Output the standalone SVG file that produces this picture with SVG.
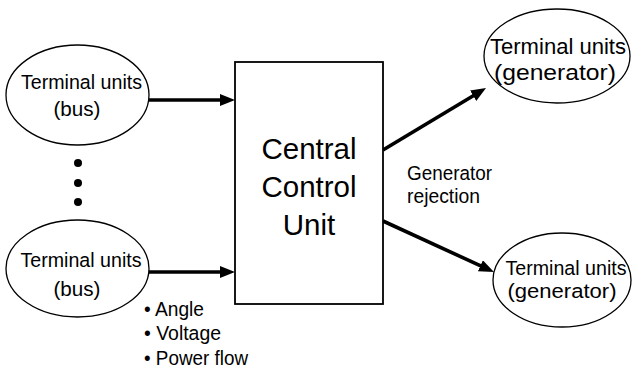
<svg xmlns="http://www.w3.org/2000/svg" width="632" height="374" viewBox="0 0 632 374">
<defs>
<style>
.bg{fill:#fff}
.node{fill:#fff;stroke:#000;stroke-width:1.3}
.box{fill:#fff;stroke:#000;stroke-width:1.8}
.t{font-family:"Liberation Sans",Arial,sans-serif;fill:#000}
.s{font-size:20.5px}
.big{font-size:22px}
.c{font-size:29.5px}
.m{text-anchor:middle}
.conn{stroke:#000;stroke-width:3.6;fill:none;marker-end:url(#ah)}
.dot{fill:#000}
</style>
<marker id="ah" markerUnits="userSpaceOnUse" markerWidth="18" markerHeight="13" refX="4" refY="6" orient="auto">
<path d="M0,0 L15,6 L0,12 z" fill="#000"/>
</marker>
</defs>
<rect class="bg" x="0" y="0" width="632" height="374"/>

<g id="connectors">
<line class="conn" x1="149" y1="100" x2="224" y2="100"/>
<line class="conn" x1="149" y1="272" x2="224" y2="272"/>
<line class="conn" x1="383" y1="150" x2="476.6" y2="93.7"/>
<line class="conn" x1="383" y1="221" x2="484" y2="267.4"/>
</g>

<g id="bus1">
<ellipse class="node" cx="77.5" cy="95" rx="71.5" ry="50"/>
<text class="t s m" x="81.5" y="89" textLength="121" lengthAdjust="spacingAndGlyphs">Terminal units</text>
<text class="t s m" x="77" y="116" textLength="47" lengthAdjust="spacingAndGlyphs">(bus)</text>
</g>

<g id="ellipsis">
<circle class="dot" cx="78" cy="163" r="4"/>
<circle class="dot" cx="78" cy="183" r="4"/>
<circle class="dot" cx="78" cy="202" r="4"/>
</g>

<g id="bus2">
<ellipse class="node" cx="77.5" cy="268.5" rx="71.5" ry="48.5"/>
<text class="t s m" x="81" y="267" textLength="121" lengthAdjust="spacingAndGlyphs">Terminal units</text>
<text class="t s m" x="77" y="296" textLength="47" lengthAdjust="spacingAndGlyphs">(bus)</text>
</g>

<g id="ccu">
<rect class="box" x="235" y="62" width="148" height="242"/>
<text class="t c m" x="309" y="159">Central</text>
<text class="t c m" x="309" y="197">Control</text>
<text class="t c m" x="309" y="235">Unit</text>
</g>

<g id="gen1">
<ellipse class="node" cx="557" cy="56" rx="73" ry="47"/>
<text class="t big m" x="558" y="54" textLength="136" lengthAdjust="spacingAndGlyphs">Terminal units</text>
<text class="t big m" x="555" y="80" textLength="122" lengthAdjust="spacingAndGlyphs">(generator)</text>
</g>

<g id="gen2">
<ellipse class="node" cx="562" cy="280" rx="69" ry="47"/>
<text class="t s m" x="566" y="275" textLength="121" lengthAdjust="spacingAndGlyphs">Terminal units</text>
<text class="t s m" x="562" y="298" textLength="109" lengthAdjust="spacingAndGlyphs">(generator)</text>
</g>

<g id="labels">
<text class="t s" x="407" y="180" textLength="85" lengthAdjust="spacingAndGlyphs">Generator</text>
<text class="t s" x="407" y="203" textLength="73" lengthAdjust="spacingAndGlyphs">rejection</text>
<text class="t s" x="144" y="316" textLength="60" lengthAdjust="spacingAndGlyphs">• Angle</text>
<text class="t s" x="144" y="340" textLength="77" lengthAdjust="spacingAndGlyphs">• Voltage</text>
<text class="t s" x="144" y="365" textLength="104" lengthAdjust="spacingAndGlyphs">• Power flow</text>
</g>
</svg>
